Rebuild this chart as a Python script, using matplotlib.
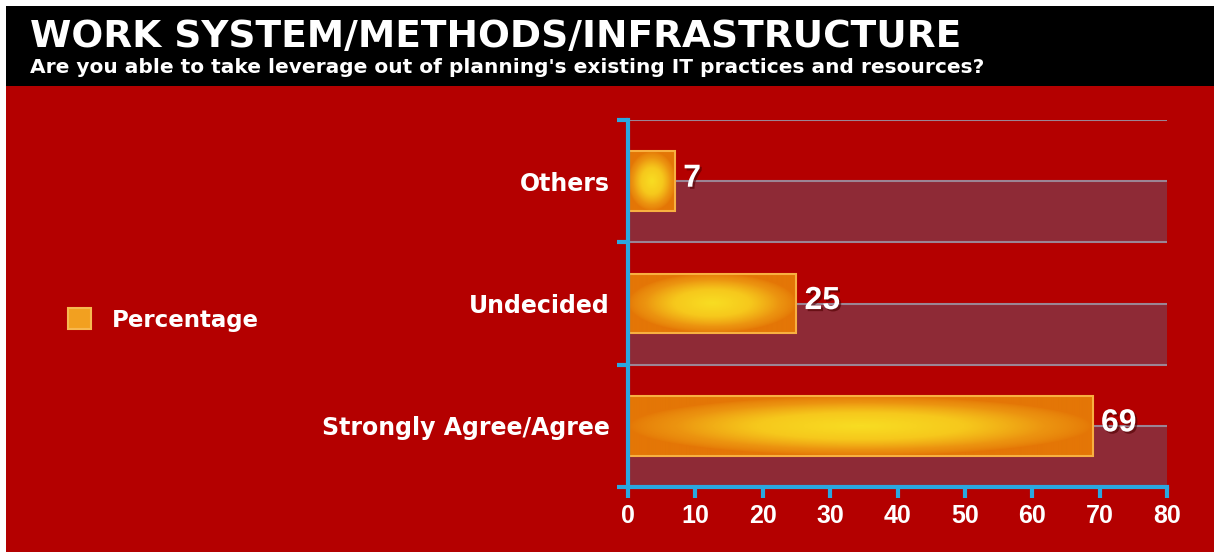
#! /usr/bin/env python3

# Survey bar chart: work system / methods / infrastructure.

import matplotlib
matplotlib.use('Agg')
import matplotlib.pyplot as plt
import matplotlib.patheffects as pe
from matplotlib.colors import LinearSegmentedColormap
from matplotlib.patches import Rectangle
import numpy as np

categories = ['Strongly Agree/Agree', 'Undecided', 'Others']
values = [69, 25, 7]
xticks = [0, 10, 20, 30, 40, 50, 60, 70, 80]
title = 'WORK SYSTEM/METHODS/INFRASTRUCTURE'
subtitle = "Are you able to take leverage out of planning's existing IT practices and resources?"
series_name = 'Percentage'

RED = '#b40000'
CYAN = '#2aa8e0'
BAND = '#8e2a36'
GRID = '#9c8494'

ARIAL = ['Liberation Sans', 'DejaVu Sans']
WIDE = ['DejaVu Sans']
plt.rcParams['font.family'] = ARIAL

W, H = 1214, 552
fig = plt.figure(figsize=(W / 100, H / 100), dpi=100)
fig.patch.set_facecolor('white')

# background: black header fading into red body
bg = fig.add_axes([0, 0, 1, 1])
bg.set_xlim(0, W)
bg.set_ylim(H, 0)
bg.axis('off')
bg.add_patch(Rectangle((6, 6), W - 6, H - 6, color=RED, lw=0))
bg.add_patch(Rectangle((6, 6), W - 6, 80, color='black', lw=0))
grad = np.linspace(0, 1, 50).reshape(-1, 1)
fade = LinearSegmentedColormap.from_list('fade', ['black', '#3a0000', RED])
bg.imshow(grad, cmap=fade, extent=[6, W, 96, 86], aspect='auto')
bg.set_xlim(0, W)
bg.set_ylim(H, 0)

fig.text(30 / W, 1 - 47 / H, title, color='white', fontsize=27,
         fontweight='bold', family=WIDE, va='baseline', ha='left')
fig.text(30 / W, 1 - 73 / H, subtitle, color='white', fontsize=14.5,
         fontweight='bold', family=WIDE, va='baseline', ha='left')

# main plot
ax = fig.add_axes([628 / W, 1 - 487 / H, (1167 - 628) / W, (487 - 120) / H])
ax.patch.set_alpha(0)
ax.set_xlim(0, 80)
ax.set_ylim(-0.5, 2.5)

ypos = np.arange(len(categories))
for y in ypos:
    ax.axhspan(y - 0.5, y, xmin=0, xmax=1, color=BAND, lw=0, zorder=0)
for g in np.arange(-0.5, 2.51, 0.5)[1:]:
    ax.axhline(g, color=GRID, lw=1.5, zorder=1)

bar_cmap = LinearSegmentedColormap.from_list('bar', ['#e47606', '#ec9410', '#f6c81c', '#f8dc22'])
bar_h = 0.49
gx, gy = np.meshgrid(np.linspace(-1, 1, 200), np.linspace(-1, 1, 60))
glow = (1 - np.clip(np.sqrt(gx ** 2 + gy ** 2), 0, 1)) ** 0.7
for y, v in zip(ypos, values):
    ax.imshow(glow, cmap=bar_cmap, extent=[0, v, y - bar_h / 2, y + bar_h / 2],
              aspect='auto', zorder=2, interpolation='bilinear')
    ax.add_patch(Rectangle((0, y - bar_h / 2), v, bar_h, fill=False,
                           edgecolor='#f8b040', lw=1.5, zorder=3))
    ax.text(v + 1.2, y + 0.02, str(v), color='white', fontsize=23,
            fontweight='bold', va='center', ha='left', zorder=4,
            path_effects=[pe.withSimplePatchShadow(offset=(1.5, -1.5),
                                                   shadow_rgbFace='#500000', alpha=0.6)])
ax.set_xlim(0, 80)
ax.set_ylim(-0.5, 2.5)

for s in ['top', 'right']:
    ax.spines[s].set_visible(False)
for s in ['left', 'bottom']:
    ax.spines[s].set_color(CYAN)
    ax.spines[s].set_linewidth(3)
    ax.spines[s].set_zorder(5)

ax.set_xticks(xticks)
ax.set_xticklabels([str(t) for t in xticks])
ax.tick_params(axis='x', colors=CYAN, length=8, width=3, labelcolor='white',
               labelsize=18, pad=4)
for lab in ax.get_xticklabels():
    lab.set_fontweight('bold')

ax.set_yticks([-0.5, 0.5, 1.5, 2.5])
ax.set_yticklabels([])
ax.tick_params(axis='y', which='major', colors=CYAN, length=8, width=3)
ax.set_yticks(ypos, minor=True)
ax.set_yticklabels(categories, minor=True)
ax.tick_params(axis='y', which='minor', length=0, pad=13, labelcolor='white',
               labelsize=17)
for lab in ax.get_yticklabels(minor=True):
    lab.set_fontweight('bold')
    lab.set_family(WIDE)

# legend
handle = Rectangle((0, 0), 1, 1, facecolor='#f2a020', edgecolor='#f7b850', lw=1.5)
fig.legend([handle], [series_name], loc='center left',
           bbox_to_anchor=(47 / W, 1 - 320 / H), frameon=False,
           handlelength=1.0, handleheight=1.0, handletextpad=0.95,
           prop={'weight': 'bold', 'size': 16.5, 'family': WIDE}, labelcolor='white')

fig.savefig('out.png', dpi=100)
